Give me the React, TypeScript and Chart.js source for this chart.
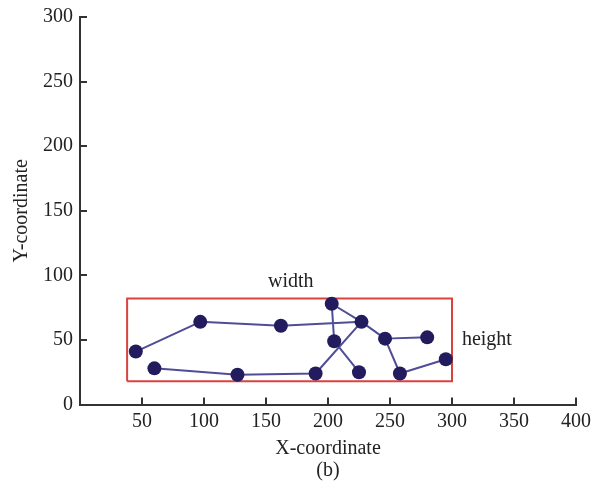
import React, { useEffect, useRef } from "react";
import { Chart, registerables } from "chart.js";

Chart.register(...registerables);

// joint coordinates
const pointX = [45, 97, 162, 227, 203, 205, 246, 280, 295, 258, 225, 190, 127, 60];
const pointY = [41, 64, 61, 64, 78, 49, 51, 52, 35, 24, 25, 24, 23, 28];
// skeleton connections (index pairs)
const edges: [number, number][] = [
  [0, 1], [1, 2], [2, 3], [3, 4], [4, 5], [5, 10], [3, 11],
  [11, 12], [12, 13], [3, 6], [6, 7], [6, 9], [9, 8],
];
// bounding box corners
const boxX = [38, 300, 300, 38, 38];
const boxY = [18, 18, 82, 82, 18];
// annotations
const labelTexts = ["width", "height"];
const labelX = [170, 308];
const labelY = [95, 50];

const xTicks = [0, 50, 100, 150, 200, 250, 300, 350, 400];
const yTicks = [0, 50, 100, 150, 200, 250, 300];

const FONT = "'Liberation Serif', 'Times New Roman', serif";
const TEXT = "#222222";
const AXIS = "#333333";

export default function App() {
  const ref = useRef<HTMLCanvasElement | null>(null);

  useEffect(() => {
    if (!ref.current) return;
    const points = pointX.map((x, i) => ({ x, y: pointY[i] }));
    const edgeData: { x: number; y: number | null }[] = [];
    edges.forEach(([a, b]) => {
      edgeData.push({ x: pointX[a], y: pointY[a] });
      edgeData.push({ x: pointX[b], y: pointY[b] });
      edgeData.push({ x: pointX[b], y: null });
    });
    const box = boxX.map((x, i) => ({ x, y: boxY[i] }));

    const labelPlugin = {
      id: "labels",
      afterDatasetsDraw(chart: any) {
        const ctx = chart.ctx;
        const xs = chart.scales.x;
        const ys = chart.scales.y;
        ctx.save();
        ctx.font = `20px ${FONT}`;
        ctx.fillStyle = TEXT;
        ctx.textBaseline = "middle";
        labelTexts.forEach((t, i) => {
          ctx.textAlign = i === 0 ? "center" : "left";
          ctx.fillText(t, xs.getPixelForValue(labelX[i]), ys.getPixelForValue(labelY[i]));
        });
        ctx.restore();
      },
    };

    const chart = new Chart(ref.current, {
      type: "scatter",
      data: {
        datasets: [
          {
            data: points,
            pointRadius: 7,
            pointBackgroundColor: "#221c5e",
            pointBorderColor: "#221c5e",
            pointBorderWidth: 0,
            showLine: false,
          },
          {
            data: edgeData as any,
            showLine: true,
            spanGaps: false,
            borderColor: "#4f4d96",
            borderWidth: 2,
            pointRadius: 0,
          },
          {
            data: box,
            showLine: true,
            borderColor: "#d8423f",
            borderWidth: 2,
            pointRadius: 0,
          },
        ],
      },
      options: {
        animation: false,
        responsive: false,
        maintainAspectRatio: false,
        layout: { padding: { top: 17, right: 27, left: 0, bottom: 0 } },
        plugins: { legend: { display: false }, tooltip: { enabled: false } },
        scales: {
          x: {
            type: "linear",
            min: 0,
            max: 400,
            afterBuildTicks: (s: any) => {
              s.ticks = xTicks.map((v) => ({ value: v }));
            },
            afterFit: (s: any) => {
              s.height = 85.5;
              s.paddingLeft = 0;
              s.paddingRight = 0;
            },
            ticks: {
              color: TEXT,
              font: { family: FONT, size: 20 },
              padding: 12,
              callback: (v: any) => (v === 0 ? "" : String(v)),
              maxRotation: 0,
            },
            grid: { drawOnChartArea: false, drawTicks: true, tickLength: -7, color: AXIS, lineWidth: 2 },
            border: { display: true, color: AXIS, width: 2 },
            title: {
              display: true,
              text: ["X-coordinate", "(b)"],
              color: TEXT,
              font: { family: FONT, size: 20, lineHeight: 1.1 },
              padding: { top: 0, bottom: 8 },
            },
          },
          y: {
            type: "linear",
            min: 0,
            max: 300,
            afterBuildTicks: (s: any) => {
              s.ticks = yTicks.map((v) => ({ value: v }));
            },
            afterFit: (s: any) => {
              s.width = 80;
              s.paddingTop = 0;
              s.paddingBottom = 0;
            },
            ticks: {
              color: TEXT,
              font: { family: FONT, size: 20 },
              padding: 14,
            },
            grid: { drawOnChartArea: false, drawTicks: true, tickLength: -7, color: AXIS, lineWidth: 2 },
            border: { display: true, color: AXIS, width: 2 },
            title: {
              display: true,
              text: "Y-coordinate",
              color: TEXT,
              font: { family: FONT, size: 20, lineHeight: 1.1 },
              padding: { top: 11, bottom: 0 },
            },
          },
        },
      },
      plugins: [labelPlugin],
    });
    return () => chart.destroy();
  }, []);

  return (
    <div style={{ position: "fixed", left: 0, top: 0, width: 603, height: 490, background: "#fff" }}>
      <canvas ref={ref} width={603} height={490} style={{ width: 603, height: 490 }} />
    </div>
  );
}
